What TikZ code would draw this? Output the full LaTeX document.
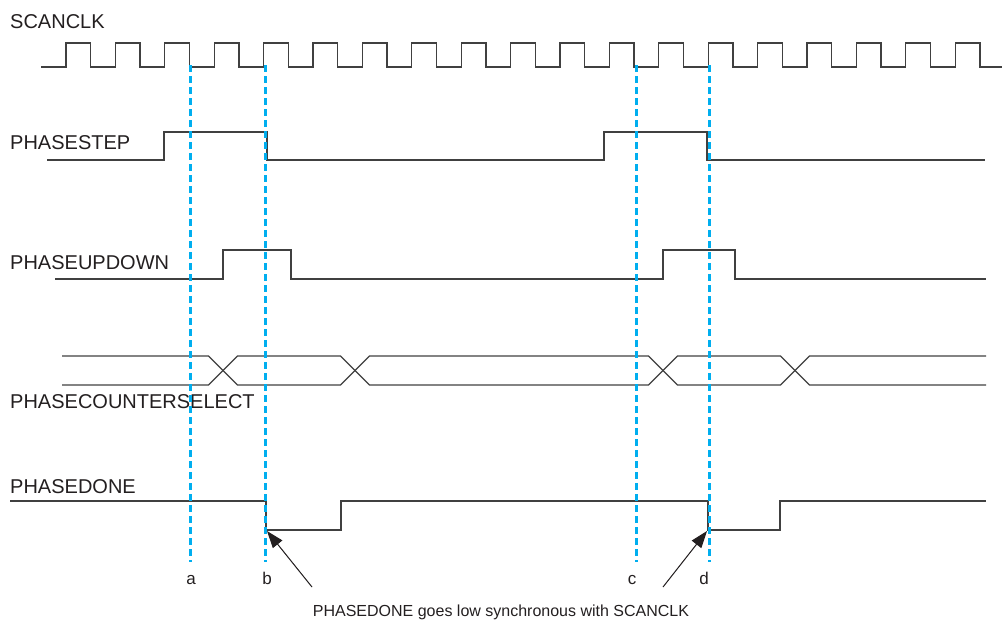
\documentclass[tikz,border=0pt]{standalone}
\usepackage{fontspec}
\setmainfont{Liberation Sans}
\usetikzlibrary{arrows.meta}
\definecolor{sigline}{RGB}{64, 64, 64}
\definecolor{markblue}{RGB}{0, 174, 239}
\definecolor{textgray}{RGB}{35, 31, 32}

\begin{document}
\begin{tikzpicture}[
      x=1pt, y=-1pt,
      signame/.style={anchor=base west, inner sep=0pt, text=textgray, font=\fontsize{20}{24}\selectfont},
      marklbl/.style={anchor=base, inner sep=0pt, text=textgray, font=\fontsize{17}{20}\selectfont},
      note/.style={anchor=base, inner sep=0pt, text=textgray, font=\fontsize{16}{19}\selectfont},
      wave/.style={draw=sigline, line width=1.3pt},
      marker/.style={draw=markblue, line width=3pt, dash pattern=on 7pt off 4pt},
      arrow/.style={-{Triangle[length=17pt,width=12pt]}, line width=1pt, draw=textgray, fill=textgray}
    ]
      \useasboundingbox (0,0) rectangle (1003,619);

      % signal names
      \node[signame] (nclk) at (10,28) {SCANCLK};
      \node[signame] (nstep) at (10,149) {PHASESTEP};
      \node[signame] (nupdn) at (10,269) {PHASEUPDOWN};
      \node[signame] (nsel) at (10,408) {PHASECOUNTERSELECT};
      \node[signame] (ndone) at (10,493) {PHASEDONE};

      % waveforms
      \draw[wave] (41,67) foreach \k in {0,...,18} {
          -- ({66+49.4*\k},67) -- ++(0,-24) -- ++(24.7,0) -- ++(0,24)} -- (1002,67);
      \draw[wave] (47,160) -- (164,160) -- (164,132) -- (267,132) -- (267,160)
        -- (604,160) -- (604,132) -- (707,132) -- (707,160) -- (985,160);
      \draw[wave] (55,279) -- (223,279) -- (223,250) -- (291,250) -- (291,279)
        -- (663,279) -- (663,250) -- (735,250) -- (735,279) -- (986,279);
      \draw[wave] (62,356) -- (208.5,356) -- (237.5,385) -- (340.5,385) -- (369.5,356)
        -- (648.5,356) -- (677.5,385) -- (780.5,385) -- (809.5,356) -- (986,356);
      \draw[wave] (62,385) -- (208.5,385) -- (237.5,356) -- (340.5,356) -- (369.5,385)
        -- (648.5,385) -- (677.5,356) -- (780.5,356) -- (809.5,385) -- (986,385);
      \draw[wave] (10,501) -- (266,501) -- (266,530) -- (341,530) -- (341,501)
        -- (708,501) -- (708,530) -- (780,530) -- (780,501) -- (986,501);

      % reference lines
      \draw[marker] (190,65) -- (190,562);
      \draw[marker] (265,65) -- (265,562);
      \draw[marker] (636,65) -- (636,562);
      \draw[marker] (709,65) -- (709,562);
      \node[marklbl] (la) at (191,584) {a};
      \node[marklbl] (lb) at (267,584) {b};
      \node[marklbl] (lc) at (632,584) {c};
      \node[marklbl] (ld) at (704,584) {d};

      % annotation
      \node[note] (remark) at (501,616) {PHASEDONE goes low synchronous with SCANCLK};
      \coordinate (tailb) at (312,587);
      \coordinate (tipb) at (267,531);
      \coordinate (taild) at (663,587);
      \coordinate (tipd) at (707,531);
      \draw[arrow] (tailb) -- (tipb);
      \draw[arrow] (taild) -- (tipd);
    \end{tikzpicture}
\end{document}
